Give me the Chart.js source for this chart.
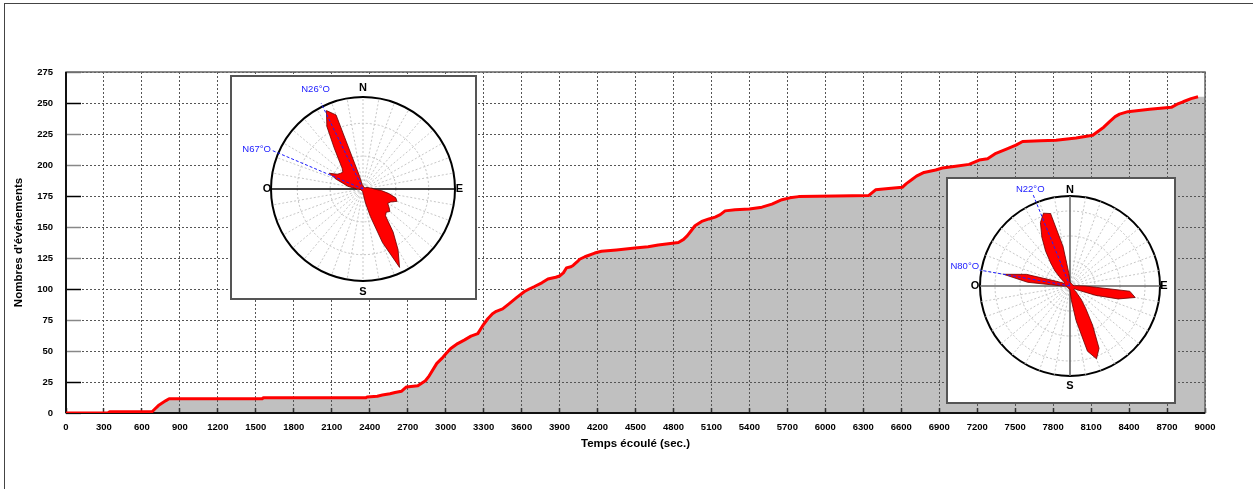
<!DOCTYPE html>
<html>
<head>
<meta charset="utf-8">
<script src="https://cdn.jsdelivr.net/npm/chart.js@4.4.0/dist/chart.umd.min.js"></script>
<style>
html, body { margin: 0; padding: 0; background: #fff; }
body { width: 1253px; height: 489px; position: relative; overflow: hidden; }
#cadre { position: absolute; left: 4px; top: 3px; right: -2px; bottom: -2px; border-left: 1px solid #444; border-top: 1px solid #444; }
canvas { position: absolute; }
#main { left: 0; top: 0; }
#rose1 { left: 230px; top: 75px; }
#rose2 { left: 946px; top: 177px; }
</style>
</head>
<body>
<div id="cadre"></div>
<canvas id="main" width="1253" height="489"></canvas>
<canvas id="rose1" width="247" height="225"></canvas>
<canvas id="rose2" width="230" height="227"></canvas>
<script>
// ==============================
// Données
// ==============================
const temps = [0, 330, 345, 680, 700, 730, 760, 775, 790, 815,
    1550, 1560, 2370, 2380, 2460, 2500, 2560, 2600, 2650, 2690,
    2780, 2840, 2870, 2930, 2970, 3000, 3040, 3095, 3150, 3200,
    3254, 3290, 3333, 3370, 3400, 3450, 3500, 3560, 3623, 3660,
    3702, 3760, 3808, 3870, 3900, 3930, 3954, 3990, 4007, 4040,
    4059, 4100, 4178, 4231, 4350, 4495, 4600, 4680, 4760, 4839,
    4880, 4910, 4940, 4970, 5023, 5080, 5129, 5170, 5208, 5287,
    5400, 5499, 5578, 5657, 5720, 5789, 6080, 6344, 6397, 6500,
    6608, 6640, 6687, 6720, 6780, 6872, 6925, 7030, 7136, 7216,
    7282, 7348, 7426, 7506, 7559, 7700, 7823, 7981, 8113, 8140,
    8200, 8246, 8290, 8325, 8391, 8563, 8734, 8780, 8827, 8890, 8945];

const evenements = [0, 0, 1, 1, 3, 6, 8, 9, 10, 11.5,
    11.5, 12.3, 12.3, 13, 13.5, 14.5, 15.5, 16.5, 17.5, 21,
    22, 26, 30, 40, 44, 47.5, 52, 56, 59, 62,
    64, 70, 76, 80, 82, 84, 88, 93, 98, 100,
    102, 105, 108, 109.5, 110.5, 113, 117, 118, 119, 122,
    124, 126, 129, 130.5, 131.5, 133, 134, 135.5, 136.5, 137.5,
    140, 143, 147, 151, 154.5, 156.5, 158, 160, 163, 164,
    164.5, 166, 168.5, 172, 173.5, 174.5, 175, 175.5, 180, 181,
    182, 185, 188.5, 191, 194, 196, 197.6, 199, 200.5, 204,
    205, 209.4, 212.6, 216, 219, 219.5, 220, 221.8, 224, 226,
    230.5, 235, 239, 241, 243, 245, 246.5, 249, 251, 253.5, 255];

const tempsMax = 9000;
const tempsPas = 300;
const evMax = 275;
const evPas = 25;

// azimuts des roses (degrés, 0 = Nord, sens horaire)
const azimuts = Array.from({length: 72}, (_, i) => i * 5);

const rose1 = [1.5, 1.5, 1.2, 1, 1, 1, 1, 1, 1, 1, 1, 1, 1,
    1.5, 2, 2.5, 3, 4,
    5, 8.5, 12, 15.5, 16.5, 14, 13, 14.5, 16, 15, 16, 24, 32, 39.5, 26, 13, 6.5, 3, 2, 1.5,
    1, 1, 1, 1, 1, 1, 1, 1, 1, 1, 1, 1, 1, 1, 1,
    1.5, 3, 4, 7, 9, 13, 17, 13.5, 12.5, 12, 13.5, 17, 23, 33, 39.5, 36, 6, 2, 1.5];

const rose2 = [1.7, 1.5,
    1.2, 1.2, 1.2, 1.2, 1.2, 1.2, 1.2, 1.2, 1.2, 1.2, 1.2, 1.2, 1.2, 1.2, 1.2,
    1.7, 6, 24, 26.5, 20, 11, 4.5, 2.5, 2, 2, 3.5, 7, 11, 18, 27.5, 31, 27, 14, 5.5, 1.7,
    1.2, 1.2, 1.2, 1.2, 1.2, 1.2, 1.2, 1.2, 1.2, 1.2, 1.2, 1.2, 1.2, 1.2, 1.2, 1.2, 1.2,
    3, 17, 27, 18, 5, 2.5, 2.5, 3, 5, 8.5, 12, 17, 22.5, 28, 31, 30, 16, 5];

const rose1Max = 42, rose1Pas = 15;
const rose2Max = 36, rose2Pas = 10;

const rose1Dirs = [334, 293];
const rose1DirLabels = ['N26°O', 'N67°O'];
const rose2Dirs = [338, 280];
const rose2DirLabels = ['N22°O', 'N80°O'];

const cardinaux = ['N', 'E', 'S', 'O'];

// ==============================
// Graphique principal
// ==============================
Chart.defaults.font.family = "'Liberation Sans', Arial, sans-serif";
Chart.defaults.color = '#000';

const policeTicks = {family: "'Liberation Sans Narrow', 'Liberation Sans', Arial", size: 9.5, weight: 'bold'};
const policeTitre = {family: "'Liberation Sans', Arial", size: 11.5, weight: 'bold'};

const points = temps.map((t, i) => ({x: t, y: evenements[i]}));
const pointsAire = points.concat([{x: tempsMax, y: evenements[evenements.length - 1]}]);

const cadrePlot = {
    id: 'cadrePlot',
    beforeDatasetsDraw(chart) {
        const {ctx, chartArea: a} = chart;
        ctx.save();
        ctx.strokeStyle = '#666';
        ctx.lineWidth = 1.5;
        ctx.strokeRect(a.left, a.top, a.right - a.left, a.bottom - a.top);
        ctx.strokeStyle = '#111';
        ctx.lineWidth = 2;
        ctx.beginPath();
        ctx.moveTo(a.left, a.bottom);
        ctx.lineTo(a.right, a.bottom);
        ctx.moveTo(a.left, a.top);
        ctx.lineTo(a.left, a.bottom);
        ctx.stroke();
        ctx.restore();
    }
};

new Chart(document.getElementById('main'), {
    type: 'line',
    data: {
        datasets: [
            {data: points, borderColor: '#ff0000', borderWidth: 3, fill: false,
             pointRadius: 0, tension: 0, borderJoinStyle: 'round'},
            {data: pointsAire, borderColor: 'transparent', borderWidth: 0,
             backgroundColor: '#c0c0c0', fill: 'origin', pointRadius: 0, tension: 0}
        ]
    },
    options: {
        responsive: false,
        animation: false,
        devicePixelRatio: 1,
        layout: {padding: {left: 0, top: 72, right: 48, bottom: 0}},
        plugins: {
            legend: {display: false},
            tooltip: {enabled: false},
            filler: {drawTime: 'beforeDraw'}
        },
        scales: {
            x: {
                type: 'linear', min: 0, max: tempsMax,
                afterFit: s => { s.height = 76; },
                ticks: {stepSize: tempsPas, autoSkip: false, maxRotation: 0, padding: 14,
                        font: policeTicks, color: '#000', callback: v => String(v)},
                grid: {color: '#555', lineWidth: 1, tickLength: -5, tickColor: '#333', tickWidth: 1.5},
                border: {display: false, dash: [2, 2]},
                title: {display: true, text: 'Temps écoulé (sec.)', font: policeTitre, color: '#000', padding: {top: 0, bottom: 38}}
            },
            y: {
                min: 0, max: evMax,
                afterFit: s => { s.width = 66; },
                ticks: {stepSize: evPas, padding: 28, font: policeTicks, color: '#000', callback: v => String(v)},
                grid: {color: '#555', lineWidth: 1, tickLength: -15, tickWidth: 1.5,
                       tickColor: c => (c.index % 3 === 1 ? '#000' : '#888')},
                border: {display: false, dash: [2, 2]},
                title: {display: true, text: "Nombres d'événements", font: policeTitre, color: '#000', padding: {top: 12, bottom: 0}}
            }
        }
    },
    plugins: [cadrePlot]
});

// ==============================
// Roses de direction
// ==============================
const boussole = {
    id: 'boussole',
    beforeDraw(chart) {
        const c = chart.ctx;
        c.save();
        c.fillStyle = '#fff';
        c.fillRect(0, 0, chart.width, chart.height);
        c.strokeStyle = '#555';
        c.lineWidth = 2;
        c.strokeRect(1, 1, chart.width - 2, chart.height - 2);
        c.restore();
    },
    afterDatasetsDraw(chart, args, opts) {
        const s = chart.scales.r, c = chart.ctx;
        const R = s.drawingArea;
        const pos = (az, d) => {
            const a = az * Math.PI / 180 - Math.PI / 2;
            return [s.xCenter + Math.cos(a) * d, s.yCenter + Math.sin(a) * d];
        };
        c.save();
        c.strokeStyle = '#2020ff';
        c.fillStyle = '#2020ff';
        c.lineWidth = 1;
        c.font = "9.5px 'Liberation Sans', Arial, sans-serif";
        c.textBaseline = 'middle';
        opts.dirs.forEach((az, i) => {
            const lay = opts.layout[i];
            const [x, y] = pos(az, R * lay.len);
            c.setLineDash([3, 2]);
            c.beginPath();
            c.moveTo(s.xCenter, s.yCenter);
            c.lineTo(x, y);
            c.stroke();
            c.setLineDash([]);
            c.textAlign = lay.align;
            c.fillText(opts.labels[i], x + lay.dx, y + lay.dy);
        });
        c.fillStyle = '#000';
        c.font = "bold 11px 'Liberation Sans', Arial, sans-serif";
        c.textAlign = 'center';
        cardinaux.forEach((t, i) => {
            const [x, y] = pos(i * 90, R + opts.gaps[i]);
            c.fillText(t, x, y);
        });
        c.restore();
    }
};

function roseChart(id, valeurs, max, pas, axeCouleur, dirs, labels, layout, gaps, padding) {
    return new Chart(document.getElementById(id), {
        type: 'radar',
        data: {
            labels: azimuts,
            datasets: [{
                data: valeurs,
                backgroundColor: '#ff0000',
                borderColor: '#6a0000',
                borderWidth: 0.8,
                fill: true,
                pointRadius: 0,
                tension: 0
            }]
        },
        options: {
            responsive: false,
            animation: false,
            devicePixelRatio: 1,
            layout: {padding: padding},
            plugins: {
                legend: {display: false},
                tooltip: {enabled: false},
                boussole: {dirs: dirs, labels: labels, layout: layout, gaps: gaps}
            },
            scales: {
                r: {
                    min: 0, max: max, startAngle: 0,
                    ticks: {stepSize: pas, display: false},
                    pointLabels: {display: false},
                    grid: {
                        circular: true,
                        color: c => (c.tick && c.tick.value === max ? '#000' : '#c4c4c4'),
                        lineWidth: c => (c.tick && c.tick.value === max ? 2 : 1)
                    },
                    border: {dash: c => (c.tick && c.tick.value === max ? [] : [2, 2])},
                    angleLines: {
                        color: c => (axeCouleur(c.index) || (c.index % 2 === 0 ? '#c8c8c8' : 'transparent')),
                        lineWidth: c => (axeCouleur(c.index) ? 1.6 : (c.index % 2 === 0 ? 1 : 0)),
                        borderDash: c => (axeCouleur(c.index) ? [] : [2, 2])
                    }
                }
            }
        },
        plugins: [boussole]
    });
}

roseChart('rose1', rose1, rose1Max, rose1Pas,
    i => (i === 18 || i === 54 ? '#000' : null),
    rose1Dirs, rose1DirLabels,
    [{len: 1.04, align: 'center', dx: -5.5, dy: -14}, {len: 1.07, align: 'right', dx: -1.5, dy: -1}],
    [9, 4.5, 10.5, 4],
    {left: 41, top: 22, right: 22, bottom: 19});

roseChart('rose2', rose2, rose2Max, rose2Pas,
    i => (i % 18 === 0 ? '#666' : null),
    rose2Dirs, rose2DirLabels,
    [{len: 1.09, align: 'center', dx: -3, dy: -6}, {len: 1.02, align: 'right', dx: -0.5, dy: -3.5}],
    [6, 4, 9.5, 5],
    {left: 34, top: 19, right: 16, bottom: 28});
</script>
</body>
</html>
